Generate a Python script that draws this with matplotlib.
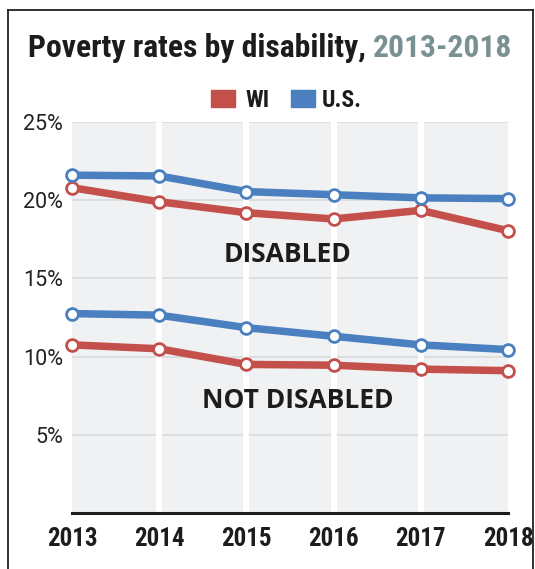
import matplotlib
matplotlib.use("Agg")
import matplotlib.pyplot as plt
from matplotlib import font_manager as fm
from matplotlib.lines import Line2D
from matplotlib.patches import Rectangle

years = [2013, 2014, 2015, 2016, 2017, 2018]
wi_disabled = [20.8, 19.9, 19.2, 18.8, 19.35, 18.05]
us_disabled = [21.6, 21.55, 20.55, 20.35, 20.15, 20.1]
wi_not_disabled = [10.75, 10.5, 9.5, 9.45, 9.2, 9.1]
us_not_disabled = [12.75, 12.65, 11.85, 11.3, 10.75, 10.45]
y_ticks = [5, 10, 15, 20, 25]
y_tick_labels = ["5%", "10%", "15%", "20%", "25%"]

names = {f.name for f in fm.fontManager.ttflist}
def pick(*c):
    for n in c:
        if n in names:
            return n
    return "DejaVu Sans"
COND = pick("Roboto Condensed", "Barlow Semi Condensed", "DejaVu Sans")
REG = pick("Roboto", "DejaVu Sans")
MYR = pick("Open Sans", "PT Sans", "DejaVu Sans")

RED = "#c4504c"
BLUE = "#4a7fc0"
BG = "#f0f1f3"
INK = "#1c1c1c"

W, H = 535, 569
fig = plt.figure(figsize=(W / 100, H / 100), dpi=100)
ax = fig.add_axes([72 / W, 1 - 513 / H, (508 - 72) / W, (513 - 122) / H])
ax.set_facecolor(BG)
ax.set_xlim(2013, 2018)
ax.set_ylim(0, 25)

for y in y_ticks:
    ax.axhline(y, color="#d8d9db", lw=1.2, zorder=1)
for x in years[1:-1]:
    ax.axvline(x, color="white", lw=4.3, zorder=2)

for vals, col in [(wi_disabled, RED), (us_disabled, BLUE),
                  (wi_not_disabled, RED), (us_not_disabled, BLUE)]:
    ax.plot(years, vals, color=col, lw=5.4, solid_joinstyle="round",
            marker="o", ms=8.5, mfc="white", mec=col, mew=2.0,
            clip_on=False, zorder=4)

for s in ["top", "right", "left"]:
    ax.spines[s].set_visible(False)
ax.spines["bottom"].set_linewidth(2.2)
ax.spines["bottom"].set_color(INK)
ax.spines["bottom"].set_zorder(5)

ax.set_yticks(y_ticks)
ax.set_yticklabels(y_tick_labels, fontsize=15.5, family=REG, color="#222222")
ax.set_xticks(years)
ax.set_xticklabels([str(y) for y in years], fontsize=18, family=COND,
                   fontweight="bold", color=INK)
ax.tick_params(axis="y", length=0, pad=6.5)
ax.tick_params(axis="x", length=0, pad=10)

ax.text(2015.47, 16.54, "DISABLED", ha="center", va="center", fontsize=19,
        fontweight="bold", family=MYR, color=INK, zorder=6)
ax.text(2015.59, 7.22, "NOT DISABLED", ha="center", va="center", fontsize=19,
        fontweight="bold", family=MYR, color=INK, zorder=6)

# title
t1 = fig.text(28 / W, 1 - 57 / H, "Poverty rates by disability, ", ha="left",
              va="baseline", fontsize=22.8, fontweight=900, family=COND,
              color=INK)
fig.canvas.draw()
bb = t1.get_window_extent()
fig.text(bb.x1 / W, 1 - 57 / H, "2013-2018", ha="left", va="baseline",
         fontsize=22.8, fontweight=900, family=COND, color="#7a9191")

# legend
fig.patches.append(Rectangle((211 / W, 1 - 107 / H), 24 / W, 17 / H,
                             transform=fig.transFigure, color=RED))
fig.text(245 / W, 1 - 107 / H, "WI", ha="left", va="baseline", fontsize=17,
         fontweight="bold", family=COND, color=INK)
fig.patches.append(Rectangle((291 / W, 1 - 107 / H), 24 / W, 17 / H,
                             transform=fig.transFigure, color=BLUE))
fig.text(322 / W, 1 - 107 / H, "U.S.", ha="left", va="baseline", fontsize=17,
         fontweight="bold", family=COND, color=INK)

# frame
fig.add_artist(Line2D([8 / W, 8 / W], [0, 1 - 9.5 / H], transform=fig.transFigure,
                      color="#222222", lw=1.3))
fig.add_artist(Line2D([8 / W, 533 / W], [1 - 9.5 / H, 1 - 9.5 / H],
                      transform=fig.transFigure, color="#222222", lw=1.3))
fig.add_artist(Line2D([533 / W, 533 / W], [0, 1 - 9.5 / H], transform=fig.transFigure,
                      color="#222222", lw=1.3))

fig.savefig("out.png", dpi=100)
